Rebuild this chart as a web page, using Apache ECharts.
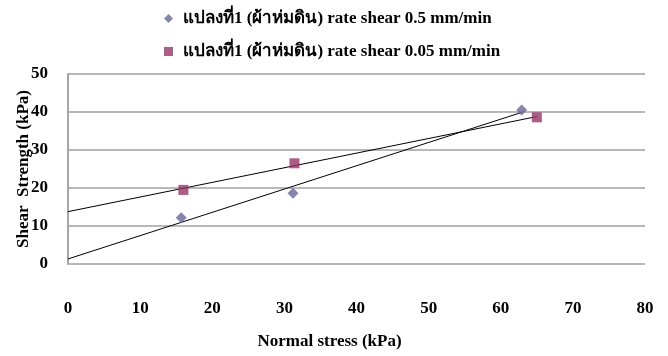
<!DOCTYPE html>
<html>
<head>
<meta charset="utf-8">
<script src="https://cdn.jsdelivr.net/npm/echarts@6/dist/echarts.min.js"></script>
<style>
  html, body { margin: 0; padding: 0; background: #fff; }
  #chart { width: 668px; height: 356px; }
</style>
</head>
<body>
<div id="chart"></div>
<script>
// Direct shear test results: normal stress vs shear strength (kPa)
const seriesNames = [
  'แปลงที่1 (ผ้าห่มดิน) rate shear 0.5 mm/min',
  'แปลงที่1 (ผ้าห่มดิน) rate shear 0.05 mm/min'
];
const normalStressFast = [15.7, 31.2, 62.9];
const shearStrengthFast = [12.2, 18.6, 40.5];
const normalStressSlow = [16.0, 31.4, 65.0];
const shearStrengthSlow = [19.5, 26.5, 38.6];

const xTicks = [0, 10, 20, 30, 40, 50, 60, 70, 80];
const yTicks = [0, 10, 20, 30, 40, 50];

const FONT = '"Liberation Serif", "Times New Roman", "DejaVu Serif", serif';
const FONT_SIZE = 17;
const COLOR_FAST = '#666699';
const COLOR_SLOW = '#993366';

// Least-squares linear trendline, drawn from x = 0 to the last measured point
function trend(xs, ys) {
  const n = xs.length;
  const mx = xs.reduce((a, b) => a + b, 0) / n;
  const my = ys.reduce((a, b) => a + b, 0) / n;
  let sxy = 0, sxx = 0;
  for (let i = 0; i < n; i++) {
    sxy += (xs[i] - mx) * (ys[i] - my);
    sxx += (xs[i] - mx) * (xs[i] - mx);
  }
  const slope = sxy / sxx;
  const icept = my - slope * mx;
  const xEnd = Math.max(...xs);
  return [[0, icept], [xEnd, icept + slope * xEnd]];
}

const pairs = (xs, ys) => xs.map((x, i) => [x, ys[i]]);

const chart = echarts.init(document.getElementById('chart'), null, { renderer: 'canvas' });

chart.setOption({
  animation: false,
  backgroundColor: '#ffffff',
  textStyle: { fontFamily: FONT },
  legend: {
    data: [
      { name: seriesNames[0], icon: 'diamond' },
      { name: seriesNames[1], icon: 'rect' }
    ],
    orient: 'vertical',
    left: 159,
    top: 5,
    itemWidth: 9,
    itemHeight: 9,
    itemGap: 16,
    textStyle: { fontFamily: FONT, fontWeight: 'bold', fontSize: FONT_SIZE, color: '#000', padding: [0, 0, 0, 5] }
  },
  grid: { left: 68, right: 23, top: 74, bottom: 92, containLabel: false, outerBoundsMode: 'none' },
  xAxis: {
    type: 'value',
    min: xTicks[0],
    max: xTicks[xTicks.length - 1],
    interval: 10,
    name: 'Normal stress (kPa)',
    nameLocation: 'middle',
    nameGap: 69,
    nameMoveOverlap: false,
    nameTextStyle: { fontFamily: FONT, fontWeight: 'bold', fontSize: FONT_SIZE, color: '#000', padding: [0, 54, 0, 0] },
    axisLine: { show: false },
    axisTick: { show: false },
    splitLine: { show: false },
    axisLabel: { margin: 36, fontFamily: FONT, fontWeight: 'bold', fontSize: FONT_SIZE, color: '#000' }
  },
  yAxis: {
    type: 'value',
    min: yTicks[0],
    max: yTicks[yTicks.length - 1],
    interval: 10,
    name: 'Shear  Strength (kPa)',
    nameLocation: 'middle',
    nameGap: 36,
    nameMoveOverlap: false,
    nameTextStyle: { fontFamily: FONT, fontWeight: 'bold', fontSize: FONT_SIZE, color: '#000' },
    axisLine: { show: true, lineStyle: { color: '#a6a6a6', width: 2 } },
    axisTick: { show: false },
    splitLine: { show: true, lineStyle: { color: '#a0a0a0', width: 1.5 } },
    axisLabel: { margin: 20, fontFamily: FONT, fontWeight: 'bold', fontSize: FONT_SIZE, color: '#000' }
  },
  series: [
    {
      name: seriesNames[0],
      type: 'scatter',
      symbol: 'diamond',
      symbolSize: 11,
      itemStyle: { color: COLOR_FAST },
      data: pairs(normalStressFast, shearStrengthFast),
      z: 3
    },
    {
      name: seriesNames[1],
      type: 'scatter',
      symbol: 'rect',
      symbolSize: 10,
      itemStyle: { color: COLOR_SLOW },
      data: pairs(normalStressSlow, shearStrengthSlow),
      z: 3
    },
    {
      name: 'trend-fast',
      type: 'line',
      data: trend(normalStressFast, shearStrengthFast),
      symbol: 'none',
      lineStyle: { color: '#000', width: 1 },
      silent: true,
      z: 2
    },
    {
      name: 'trend-slow',
      type: 'line',
      data: trend(normalStressSlow, shearStrengthSlow),
      symbol: 'none',
      lineStyle: { color: '#000', width: 1 },
      silent: true,
      z: 2
    }
  ]
});
</script>
</body>
</html>
